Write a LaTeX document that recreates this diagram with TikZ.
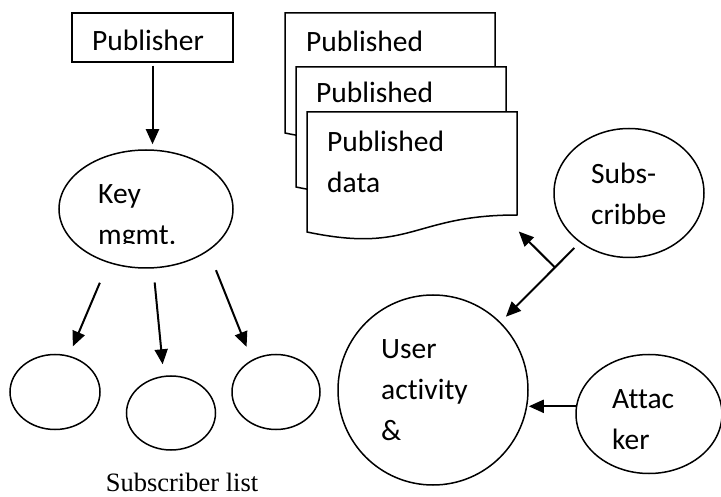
\documentclass[tikz,border=0pt]{standalone}
\usepackage{fontspec}
\setmainfont{Carlito}[Ligatures=NoCommon]
\newfontfamily\timesfont{Liberation Serif}
\usepackage{tikz}
\usetikzlibrary{arrows.meta, shapes.geometric, calc}
\tikzset{
	oval/.style={draw, ellipse, line width=1.5pt, inner sep=0pt},
	words/.style={anchor=base west, inner sep=0pt, align=left, font=\fontsize{29.5}{41}\selectfont},
	arr/.style={line width=2pt, arrows={-Triangle[length=15pt, width=13pt]}},
	docpage/.pic={
		\draw[line width=1.5pt, fill=white] (0,0) -- (210,0) -- (210,103) .. controls (105,103) and (105,142) .. (0,120) -- cycle;
		\coordinate (-corner) at (210,103);
	}
}

\begin{document}
\begin{tikzpicture}[x=1pt, y=-1pt]
	\useasboundingbox (0,0) rectangle (721,497);
	\node[draw, line width=1.5pt, minimum width=161pt, minimum height=49pt, inner sep=0pt] (publisher) at (152.5,37.5) {};
	\node[words] (publishertxt) at (92,51) {Publisher};
	\node[oval, minimum width=174pt, minimum height=118pt] (keymgmt) at (146,209) {};
	\node[words] (keytxt) at (98,204) {Key};
	\begin{scope}
		\clip (60,150) rectangle (232,243.5);
		\node[words] (mgmttxt) at (98,245) {mgmt.};
	\end{scope}
	\node[oval, minimum width=90pt, minimum height=75pt] (sub1) at (55,392) {};
	\node[oval, minimum width=89pt, minimum height=74pt] (sub2) at (171,413) {};
	\node[oval, minimum width=88pt, minimum height=75pt] (sub3) at (276,392) {};
	\node[font=\timesfont\fontsize{26.5}{30}\selectfont, anchor=base, inner sep=0pt] (sublist) at (182,491) {Subscriber list};

	\pic (pd1) at (285,13) {docpage};
	\node[words] (pd1txt) at (306,52) {Published};
	\pic (pd2) at (296,67) {docpage};
	\node[words] (pd2txt) at (316,103) {Published};
	\pic (pd3) at (307,112) {docpage};
	\node[words] (pd3txt) at (327,193) {Published\\data};

	\node[oval, minimum width=150pt, minimum height=129pt] (subs) at (629,193) {};
	\node[words] (substxt) at (591,225) {Subs-\\cribbe};
	\node[draw, circle, line width=1.5pt, minimum size=190pt, inner sep=0pt] (user) at (433,390) {};
	\node[words] (usertxt) at (381,440) {User\\activity\\\&};
	\node[oval, minimum width=146pt, minimum height=119pt] (attacker) at (649,414) {};
	\node[words] (attackertxt) at (612,449) {Attac\\ker};

	\draw[arr, shorten <=3pt, shorten >=5pt] (publisher.south) -- (publisher.south |- keymgmt.north);
	\draw[arr, shorten <=21.5pt, shorten >=10pt] (keymgmt.235) -- (sub1.69);
	\draw[arr, shorten <=14pt, shorten >=11.5pt] (keymgmt.277) -- (sub2.101);
	\draw[arr, shorten <=20.6pt, shorten >=14pt] (keymgmt.326) -- (sub3.127);
	\draw[arr, shorten <=7.7pt, shorten >=7.6pt] (subs) -- (user);
	\coordinate (split) at ($(subs)!0.378!(user)$);
	\draw[arr] (split) -- ($(split)!51pt!-90:(user)$);
	\draw[arr] (attacker.174) -- (attacker.174 -| user.east);
\end{tikzpicture}
\end{document}
